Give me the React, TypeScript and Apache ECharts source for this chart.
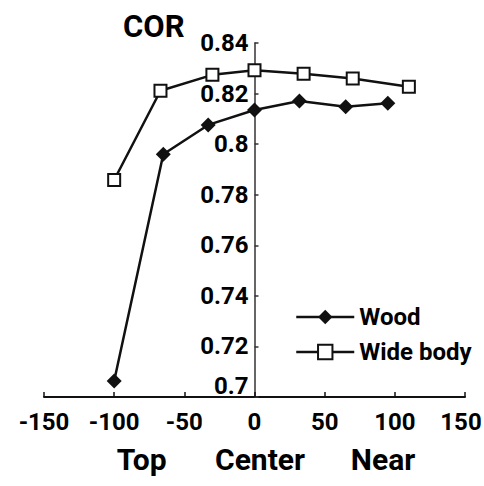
import React, { useEffect, useRef } from "react";
import * as echarts from "echarts";

const woodX = [-100, -65, -33, 0, 32, 65, 95];
const woodY = [0.7063, 0.796, 0.8076, 0.8135, 0.8171, 0.8148, 0.8162];
const wideX = [-100, -67, -30, 0, 35, 70, 110];
const wideY = [0.7858, 0.8211, 0.8274, 0.8292, 0.8278, 0.826, 0.8227];
const seriesNames = ["Wood", "Wide body"];
const regionLabels = ["Top", "Center", "Near"];
const yTitle = "COR";

const FONT = "Roboto, 'Liberation Sans', sans-serif";
const INK = "#111";
const GRID_LEFT = 44;
const GRID_RIGHT = 19;
const WIDTH = 484;

export default function App() {
  const ref = useRef<HTMLDivElement>(null);
  useEffect(() => {
    document.body.style.margin = "0";
    const chart = echarts.init(ref.current!, null, { renderer: "svg" });
    const pair = (xs: number[], ys: number[]) => xs.map((x, i) => [x, ys[i]]);
    const plotW = WIDTH - GRID_LEFT - GRID_RIGHT;
    const yAxisOffset = -(plotW * (150 / 300));
    const labelFont = { fontFamily: FONT, fontWeight: "bold", fontSize: 24, color: "#000" };
    chart.setOption({
      animation: false,
      backgroundColor: "#fff",
      grid: { left: GRID_LEFT, right: GRID_RIGHT, top: 43, bottom: 89, outerBoundsMode: "none" },
      xAxis: {
        type: "value",
        min: -150,
        max: 150,
        interval: 50,
        splitLine: { show: false },
        axisLine: { onZero: false, lineStyle: { color: INK, width: 2 } },
        axisTick: { inside: true, length: 5, lineStyle: { color: INK, width: 1.5 } },
        axisLabel: {
          ...labelFont,
          margin: 13,
          formatter: (v: number) => (v === 150 ? "{end|" + v + "}" : String(v)),
          rich: { end: { ...labelFont, padding: [0, 8, 0, 0] } },
        },
      },
      yAxis: {
        type: "value",
        min: 0.7,
        max: 0.84,
        interval: 0.02,
        offset: yAxisOffset,
        splitLine: { show: false },
        axisLine: { onZero: false, lineStyle: { color: "#333", width: 1.5 } },
        axisTick: { inside: true, length: 4, lineStyle: { color: "#333", width: 1.5 } },
        axisLabel: {
          ...labelFont,
          margin: 6,
          formatter: (v: number) => {
            const s = String(parseFloat(v.toFixed(2)));
            return Math.abs(v - 0.7) < 1e-9 ? "{low|" + s + "}" : s;
          },
          rich: { low: { ...labelFont, padding: [0, 0, 22, 0] } },
        },
      },
      legend: {
        orient: "vertical",
        left: 290,
        top: 300,
        itemWidth: 58,
        itemHeight: 18,
        itemGap: 11,
        lineStyle: { width: 2.5, color: INK },
        textStyle: { color: "#000", fontFamily: FONT, fontWeight: "bold", fontSize: 24 },
        data: seriesNames,
      },
      graphic: [
        {
          type: "text",
          left: 123,
          top: 11,
          style: { text: yTitle, fill: "#000", font: "bold 31px " + FONT },
        },
        ...regionLabels.map((t, i) => ({
          type: "text",
          x: [141.7, 260, 383][i],
          y: 459,
          style: { text: t, fill: "#000", font: "bold 30px " + FONT, align: "center", verticalAlign: "middle" },
        })),
      ],
      series: [
        {
          name: seriesNames[0],
          type: "line",
          data: pair(woodX, woodY),
          symbol: "diamond",
          symbolSize: 15,
          lineStyle: { color: INK, width: 2.5 },
          itemStyle: { color: INK },
          z: 3,
        },
        {
          name: seriesNames[1],
          type: "line",
          data: pair(wideX, wideY),
          symbol: "rect",
          symbolSize: 12,
          lineStyle: { color: INK, width: 2.5 },
          itemStyle: { color: "#fff", borderColor: INK, borderWidth: 2 },
          z: 3,
        },
      ],
    });
    return () => chart.dispose();
  }, []);
  return <div ref={ref} style={{ width: 484, height: 486 }} />;
}
